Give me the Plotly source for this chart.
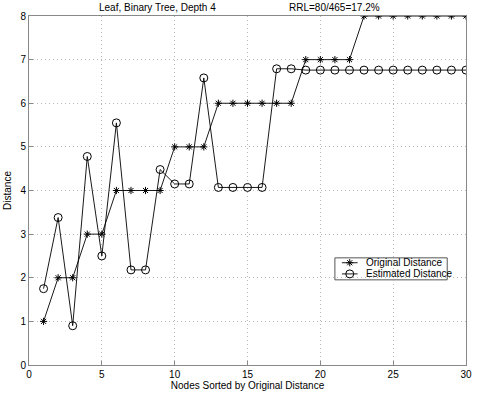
import plotly.graph_objects as go

nodes = list(range(1, 31))
original_distance = [1, 2, 2, 3, 3, 4, 4, 4, 4, 5, 5, 5, 6, 6, 6, 6, 6, 6,
                     7, 7, 7, 7, 8, 8, 8, 8, 8, 8, 8, 8]
estimated_distance = [1.75, 3.38, 0.9, 4.78, 2.5, 5.55, 2.18, 2.18, 4.48, 4.15,
                      4.15, 6.58, 4.07, 4.07, 4.07, 4.07, 6.79, 6.79,
                      6.76, 6.76, 6.76, 6.76, 6.76, 6.76, 6.76, 6.76, 6.76, 6.76, 6.76, 6.76]
series_names = ["Original Distance", "Estimated Distance"]
series_symbols = ["asterisk-open", "circle-open"]
series_sizes = [6, 8]

font = "Liberation Sans, Arial, sans-serif"

fig = go.Figure()
for name, ys, sym, sz in zip(series_names, [original_distance, estimated_distance],
                             series_symbols, series_sizes):
    fig.add_trace(go.Scatter(
        x=nodes, y=ys, mode="lines+markers", name=name, showlegend=False,
        line=dict(color="black", width=0.9),
        marker=dict(symbol=sym, size=sz, color="black", line=dict(width=1, color="black")),
    ))

# Boxed key in the lower right, drawn on a hidden 0..1 overlay axis pair
key_x0, key_x1 = 0.700, 0.957
key_y0, key_y1 = 0.244, 0.307
row_y = [0.293, 0.261]
sample_x = [0.716, 0.752]
text_x = 0.767

for name, sym, sz, ry in zip(series_names, series_symbols, series_sizes, row_y):
    fig.add_trace(go.Scatter(
        x=sample_x, y=[ry, ry], mode="lines", xaxis="x2", yaxis="y2",
        line=dict(color="black", width=0.9), showlegend=False, hoverinfo="skip",
    ))
    fig.add_trace(go.Scatter(
        x=[(sample_x[0] + sample_x[1]) / 2], y=[ry], mode="markers", xaxis="x2", yaxis="y2",
        marker=dict(symbol=sym, size=sz, color="black", line=dict(width=1, color="black")),
        showlegend=False, hoverinfo="skip",
    ))

shapes = [dict(type="rect", xref="paper", yref="paper", x0=key_x0, x1=key_x1,
               y0=key_y0, y1=key_y1, line=dict(color="#555555", width=1),
               fillcolor="white", layer="below")]

annotations = [
    dict(text="Leaf, Binary Tree, Depth 4", x=0.295, y=1.0, xref="paper", yref="paper",
         xanchor="center", yanchor="bottom", yshift=1, showarrow=False,
         font=dict(family=font, size=10)),
    dict(text="RRL=80/465=17.2%", x=0.70, y=1.0, xref="paper", yref="paper",
         xanchor="center", yanchor="bottom", yshift=1, showarrow=False,
         font=dict(family=font, size=10)),
]
for name, ry in zip(series_names, row_y):
    annotations.append(dict(text=name, x=text_x, y=ry, xref="paper", yref="paper",
                            xanchor="left", yanchor="middle", showarrow=False,
                            font=dict(family=font, size=10)))

axis_common = dict(
    showline=True, linecolor="#888888", linewidth=1, mirror=True,
    showgrid=True, gridcolor="#b8b8b8", griddash="1px,3px", gridwidth=1,
    ticks="inside", ticklen=4, tickcolor="#888888",
    zeroline=False, tickfont=dict(family=font, size=10, color="black"),
)

fig.update_layout(
    width=479, height=396,
    margin=dict(l=25, r=7, t=16, b=28),
    paper_bgcolor="white", plot_bgcolor="white",
    font=dict(family=font, size=10, color="black"),
    xaxis=dict(range=[0, 30], dtick=5,
               title=dict(text="Nodes Sorted by Original Distance", standoff=2,
                          font=dict(family=font, size=10)),
               **axis_common),
    yaxis=dict(range=[0, 8], dtick=1,
               title=dict(text="Distance", standoff=6, font=dict(family=font, size=10)),
               **axis_common),
    xaxis2=dict(range=[0, 1], domain=[0, 1], overlaying="x", anchor="y2", visible=False),
    yaxis2=dict(range=[0, 1], domain=[0, 1], overlaying="y", anchor="x2", visible=False),
    showlegend=False,
    shapes=shapes,
    annotations=annotations,
)

fig.write_html("out.html")
